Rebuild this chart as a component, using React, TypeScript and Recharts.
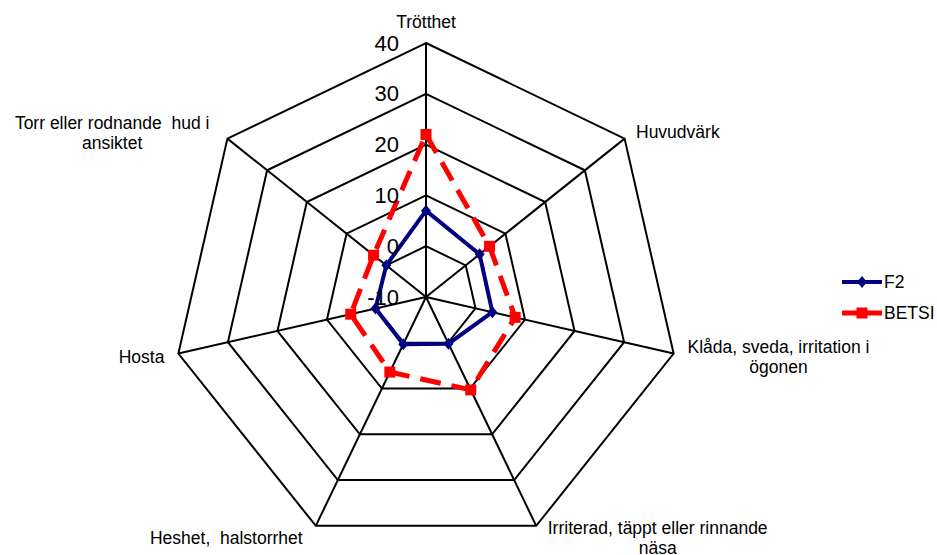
import { PolarAngleAxis, PolarGrid, PolarRadiusAxis, Radar, RadarChart } from "recharts";

const symptoms = [
    "Trötthet",
    "Huvudvärk",
    "Klåda, sveda, irritation i\nögonen",
    "Irriterad, täppt eller rinnande\nnäsa",
    "Heshet,  halstorrhet",
    "Hosta",
    "Torr eller rodnande  hud i\nansiktet",
];
const f2Values = [7, 3.5, 3.4, 0.2, 0.3, 0.2, 0];
const betsiValues = [22, 6, 8, 10.3, 6.4, 5.2, 3.2];
const radiusTicks = [-10, 0, 10, 20, 30, 40];

const data = symptoms.map((s, i) => ({ symptom: s, F2: f2Values[i], BETSI: betsiValues[i] }));

// label offsets from the tick point (centre of each line block)
const labelOffsets = [
    { dx: 0, dy: -13 },
    { dx: 47, dy: -2 },
    { dx: 97, dy: -8 },
    { dx: 118, dy: -5 },
    { dx: -86, dy: 5 },
    { dx: -29, dy: 2 },
    { dx: -109, dy: -11 },
];

const FONT = "'Liberation Sans', Arial, sans-serif";

const AngleTick = (props: any) => {
    const { x, y, payload, index } = props;
    const lines = String(payload.value).split("\n");
    const off = labelOffsets[index] || { dx: 0, dy: 0 };
    return (
        <g>
            {lines.map((line, i) => (
                <text
                    key={i}
                    x={x + off.dx}
                    y={y + off.dy + i * 20}
                    textAnchor="middle"
                    dominantBaseline="central"
                    fontSize={17.5}
                    fontFamily={FONT}
                    fill="#000"
                    style={{ whiteSpace: "pre" }}
                >
                    {line}
                </text>
            ))}
        </g>
    );
};

const RadiusTick = (props: any) => {
    const { x, y, payload } = props;
    return (
        <text x={x - 27} y={y} textAnchor="end" dominantBaseline="central" fontSize={22} fontFamily={FONT} fill="#000">
            {payload.value}
        </text>
    );
};

const Diamond = (props: any) => {
    const { cx, cy } = props;
    return <polygon points={`${cx},${cy - 6} ${cx + 5},${cy} ${cx},${cy + 6} ${cx - 5},${cy}`} fill="#000080" />;
};

const Square = (props: any) => {
    const { cx, cy } = props;
    return <rect x={cx - 5.5} y={cy - 5.5} width={11} height={11} fill="#ff0000" />;
};

const LegendBox = () => (
    <svg width={100} height={60} style={{ position: "absolute", left: 840, top: 266 }}>
        <line x1={2} y1={16} x2={42} y2={16} stroke="#000080" strokeWidth={4} />
        <polygon points="22,10 27,16 22,22 17,16" fill="#000080" />
        <text x={44} y={16} dominantBaseline="central" fontSize={17.5} fontFamily={FONT}>F2</text>
        <line x1={2} y1={47} x2={42} y2={47} stroke="#ff0000" strokeWidth={5} />
        <rect x={16.5} y={41.5} width={11} height={11} fill="#ff0000" />
        <text x={44} y={47} dominantBaseline="central" fontSize={17.5} fontFamily={FONT}>BETSI</text>
    </svg>
);

export default function App() {
    return (
        <div style={{ position: "absolute", left: 0, top: 0, width: 937, height: 555, background: "#fff" }}>
            <RadarChart width={937} height={555} data={data} cx={426} cy={297} outerRadius={254}>
                <PolarGrid gridType="polygon" stroke="#000" strokeWidth={2} strokeOpacity={1} />
                <PolarAngleAxis dataKey="symptom" tick={<AngleTick />} tickLine={false} axisLine={false} />
                <PolarRadiusAxis
                    angle={90}
                    domain={[-10, 40]}
                    ticks={radiusTicks as any}
                    tickCount={6}
                    tick={<RadiusTick />}
                    axisLine={false}
                    tickLine={false}
                />
                <Radar
                    name="BETSI"
                    dataKey="BETSI"
                    stroke="#ff0000"
                    strokeWidth={5}
                    strokeDasharray="21 11"
                    fill="none"
                    fillOpacity={0}
                    dot={<Square />}
                    isAnimationActive={false}
                />
                <Radar
                    name="F2"
                    dataKey="F2"
                    stroke="#000080"
                    strokeWidth={4}
                    fill="none"
                    fillOpacity={0}
                    dot={<Diamond />}
                    isAnimationActive={false}
                />
            </RadarChart>
            <LegendBox />
        </div>
    );
}
